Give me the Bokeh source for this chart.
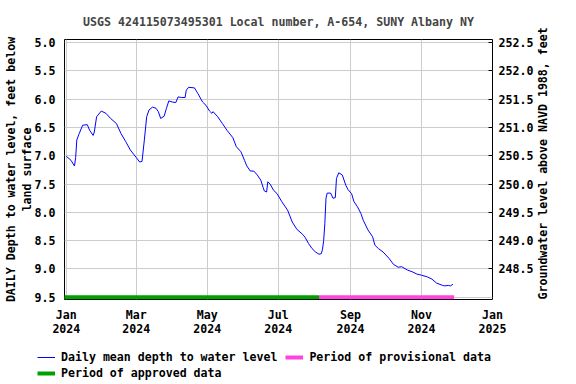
import math
import pandas as pd
from bokeh.plotting import figure
from bokeh.models import (Range1d, LinearAxis, FixedTicker, NumeralTickFormatter,
                          DatetimeTickFormatter, Legend, LegendItem)
from bokeh.embed import file_html
from bokeh.resources import INLINE

# ---------------- data ----------------
title_text = "USGS 424115073495301 Local number, A-654, SUNY Albany NY"
start_date = "2024-01-01"
day_offsets = [0, 4, 7, 8, 9, 11, 14, 18, 20, 23, 24, 26, 30, 34, 38, 43, 47, 51, 55, 60,
               63, 65, 67, 69, 71, 74, 77, 79, 81, 84, 86, 88, 91, 94, 96, 99, 102, 103, 105, 110,
               113, 117, 120, 123, 125, 126, 130, 134, 138, 143, 146, 150, 153, 155, 158, 161, 164, 167, 169, 170,
               172, 173, 175, 178, 181, 185, 190, 194, 198, 203, 205, 208, 211, 214, 217, 219, 220, 221, 222, 223,
               224, 227, 229, 231, 232, 234, 237, 240, 242, 245, 247, 250, 253, 255, 259, 263, 265, 268, 272, 277,
               281, 285, 288, 293, 297, 301, 305, 310, 314, 318, 323, 325, 328, 330, 332]
depth_ft = [7.01, 7.08, 7.18, 7.03, 6.72, 6.61, 6.46, 6.45, 6.55, 6.64, 6.58, 6.31, 6.21, 6.25, 6.34, 6.43, 6.61, 6.75, 6.90, 7.03,
            7.11, 7.10, 6.72, 6.31, 6.19, 6.14, 6.16, 6.22, 6.34, 6.30, 6.16, 6.03, 6.05, 6.06, 5.96, 5.97, 5.97, 5.84, 5.79, 5.80,
            5.90, 6.05, 6.11, 6.21, 6.25, 6.22, 6.31, 6.43, 6.55, 6.68, 6.84, 6.93, 7.08, 7.18, 7.27, 7.27, 7.34, 7.43, 7.56, 7.62,
            7.64, 7.46, 7.50, 7.61, 7.67, 7.81, 7.96, 8.17, 8.30, 8.39, 8.44, 8.55, 8.64, 8.70, 8.74, 8.73, 8.65, 8.50, 8.20, 7.75,
            7.66, 7.66, 7.75, 7.74, 7.40, 7.30, 7.34, 7.52, 7.60, 7.67, 7.81, 7.90, 8.02, 8.14, 8.31, 8.43, 8.58, 8.64, 8.70, 8.81,
            8.92, 8.97, 8.96, 9.02, 9.05, 9.09, 9.11, 9.14, 9.18, 9.25, 9.29, 9.30, 9.29, 9.30, 9.27]
land_surface_elev = 257.5
approved_period = ["2023-12-30", "2024-08-05"]
provisional_period = ["2024-08-05", "2024-11-29"]
period_bar_depth = 9.5
x_tick_dates = ["2024-01-01", "2024-03-01", "2024-05-01", "2024-07-01",
                "2024-09-01", "2024-11-01", "2025-01-01"]
depth_ticks = [5.0, 5.5, 6.0, 6.5, 7.0, 7.5, 8.0, 8.5, 9.0, 9.5]
elev_ticks = [248.5, 249.0, 249.5, 250.0, 250.5, 251.0, 251.5, 252.0, 252.5]
left_label = "DAILY Depth to water level, feet below\nland surface"
right_label = "Groundwater level above NAVD 1988, feet"
legend_labels = ["Daily mean depth to water level", "Period of provisional data",
                 "Period of approved data"]

# ---------------- styling ----------------
FONT = "DejaVu Sans Mono"
FS = "11.6px"
BLUE = "#0000ff"
GREEN = "#00a000"
PINK = "#ff44dd"
GRID = "#cccccc"

dates = pd.Timestamp(start_date) + pd.to_timedelta(day_offsets, unit="D")
depth_top, depth_bottom = 4.945, 9.54

MAIN_H = 344
p = figure(width=576, height=MAIN_H, output_backend="svg", toolbar_location=None,
           x_axis_type="datetime",
           x_range=Range1d(pd.Timestamp("2023-12-30 10:00"), pd.Timestamp("2025-01-01")),
           y_range=Range1d(depth_bottom, depth_top),
           min_border_left=64, min_border_right=84, min_border_top=39, min_border_bottom=45,
           background_fill_color="white", border_fill_color="white")
p.extra_y_ranges = {"elev": Range1d(land_surface_elev - depth_bottom, land_surface_elev - depth_top)}

p.title.text = title_text
p.title.align = "center"
p.title.text_font = FONT
p.title.text_font_size = FS
p.title.text_font_style = "bold"
p.title.standoff = 21

p.outline_line_color = "black"
p.outline_line_alpha = 1.0
p.outline_line_width = 1

# x axis
p.xaxis.ticker = FixedTicker(ticks=[pd.Timestamp(d).value // 10**6 for d in x_tick_dates])
fmt = "%b\n%Y"
p.xaxis.formatter = DatetimeTickFormatter(years=fmt, months=fmt, days=fmt, hours=fmt,
                                          minutes=fmt, seconds=fmt, milliseconds=fmt,
                                          microseconds=fmt, hourmin=fmt, minsec=fmt)
p.xaxis.major_tick_in = 0
p.xaxis.major_tick_out = 0
p.xaxis.minor_tick_line_color = None
p.xaxis.axis_line_color = None
p.xaxis.major_label_standoff = 8
p.xaxis.major_label_text_font = FONT
p.xaxis.major_label_text_font_size = FS
p.xaxis.major_label_text_font_style = "bold"
p.xaxis.major_label_text_color = "black"
p.xaxis.major_label_text_line_height = 1.02

# left axis
p.yaxis.ticker = FixedTicker(ticks=depth_ticks)
p.yaxis.formatter = NumeralTickFormatter(format="0.0")
p.yaxis.major_tick_in = 0
p.yaxis.major_tick_out = 0
p.yaxis.minor_tick_line_color = None
p.yaxis.axis_line_color = None
p.yaxis.major_label_standoff = 9
p.yaxis.major_label_text_font = FONT
p.yaxis.major_label_text_font_size = FS
p.yaxis.major_label_text_font_style = "bold"
p.yaxis.major_label_text_color = "black"
p.yaxis.axis_label = left_label
p.yaxis.axis_label_standoff = -2
p.yaxis.axis_label_text_font = FONT
p.yaxis.axis_label_text_font_size = FS
p.yaxis.axis_label_text_font_style = "bold"
p.yaxis.axis_label_text_color = "black"
p.yaxis.axis_label_text_line_height = 1.1

# right axis
raxis = LinearAxis(y_range_name="elev", ticker=FixedTicker(ticks=elev_ticks),
                   formatter=NumeralTickFormatter(format="0.0"),
                   major_tick_in=4, major_tick_out=0, minor_tick_line_color=None,
                   axis_line_color=None, major_label_standoff=6,
                   major_label_text_font=FONT, major_label_text_font_size=FS,
                   major_label_text_font_style="bold", major_label_text_color="black",
                   axis_label=right_label, axis_label_standoff=7,
                   axis_label_text_font=FONT, axis_label_text_font_size=FS,
                   axis_label_text_font_style="bold", axis_label_text_color="black")
_props = LinearAxis.properties()
if "axis_label_orientation" in _props:
    raxis.axis_label_orientation = math.pi / 2
    if "axis_label_align" in _props:
        try:
            raxis.axis_label_align = "start"
        except ValueError:
            pass
p.add_layout(raxis, "right")

p.xgrid.grid_line_color = GRID
p.ygrid.grid_line_color = GRID
p.xgrid.grid_line_width = 1
p.ygrid.grid_line_width = 1

# glyphs
r_line = p.line(dates, depth_ft, line_color=BLUE, line_width=1)
r_appr = p.line([pd.Timestamp(d) for d in approved_period], [period_bar_depth] * 2,
                line_color=GREEN, line_width=4, line_cap="butt")
r_prov = p.line([pd.Timestamp(d) for d in provisional_period], [period_bar_depth] * 2,
                line_color=PINK, line_width=4, line_cap="butt")

# ---------------- legend strip below the chart (separate root) ----------------
LEG_H = 384 - MAIN_H
q = figure(width=576, height=LEG_H, output_backend="svg", toolbar_location=None,
           x_range=Range1d(0, 1), y_range=Range1d(0, 1),
           x_axis_location=None, y_axis_location=None,
           min_border=0, min_border_left=0, min_border_right=0,
           min_border_top=0, min_border_bottom=0,
           background_fill_color="white", border_fill_color="white")
q.grid.visible = False
q.outline_line_color = None
nan = float("nan")
k_line = q.line([nan], [nan], line_color=BLUE, line_width=1)
k_prov = q.line([nan], [nan], line_color=PINK, line_width=4, line_cap="butt")
k_appr = q.line([nan], [nan], line_color=GREEN, line_width=4, line_cap="butt")

def make_legend(items, loc):
    return Legend(items=items, location=loc, orientation="horizontal",
                  glyph_width=18, glyph_height=16, label_height=16, label_standoff=6,
                  spacing=8, padding=0, margin=0, border_line_color=None,
                  background_fill_alpha=0, label_text_font=FONT, label_text_font_size=FS,
                  label_text_font_style="bold", label_text_color="black")

leg1 = make_legend([LegendItem(label=legend_labels[0], renderers=[k_line]),
                    LegendItem(label=legend_labels[1], renderers=[k_prov])], (37, 19))
leg2 = make_legend([LegendItem(label=legend_labels[2], renderers=[k_appr])], (37, 3))
q.add_layout(leg1)
q.add_layout(leg2)

open("out.html", "w").write(file_html([p, q], INLINE))
